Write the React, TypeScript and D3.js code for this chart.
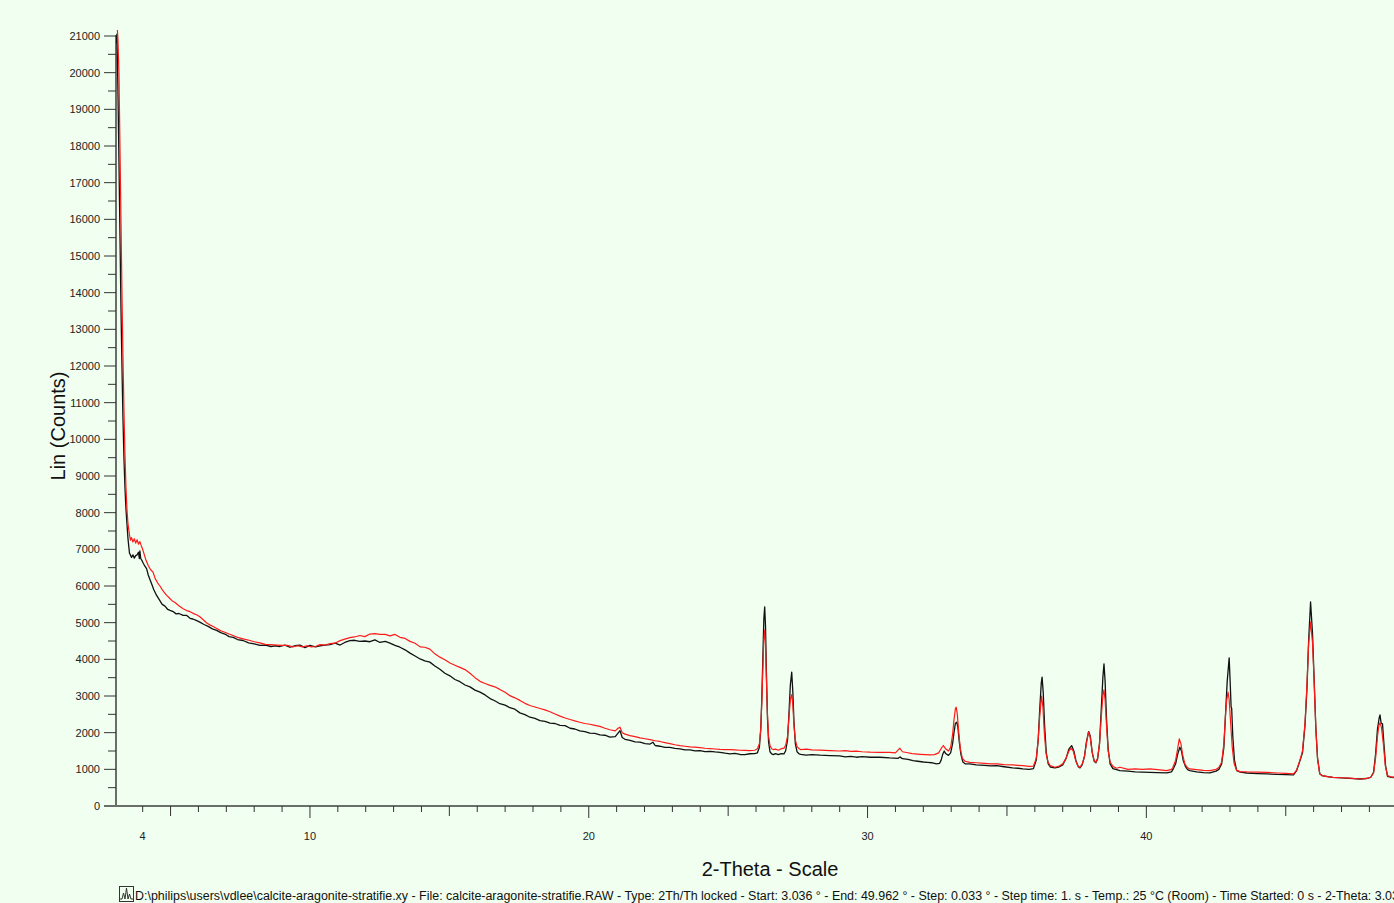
import React from "react";
import * as d3 from "d3";

// 2-Theta (deg) / counts, black scan
const blackScan: [number, number][] = [
  [3.036, 20800], [3.077, 21050], [3.113, 19500], [3.149, 17600], [3.185, 15600], [3.221, 13600],
  [3.257, 12000], [3.292, 10600], [3.328, 9500], [3.364, 8700], [3.4, 8100], [3.436, 7700],
  [3.472, 7300], [3.526, 6900], [3.6, 6780], [3.65, 6850], [3.7, 6760], [3.75, 6830], [3.8, 6850],
  [3.85, 6920], [3.88, 6750], [3.9, 6960], [3.93, 6750], [3.97, 6700], [4.02, 6620], [4.08, 6540],
  [4.14, 6472], [4.2, 6300], [4.26, 6180], [4.32, 6060], [4.4, 5900], [4.5, 5743], [4.6, 5620],
  [4.7, 5500], [4.8, 5450], [4.9, 5360], [4.98, 5333], [5.1, 5300], [5.2, 5240], [5.3, 5250],
  [5.45, 5200], [5.58, 5197], [5.7, 5120], [5.8, 5100], [5.92, 5060], [6.05, 5015], [6.2, 4950],
  [6.35, 4900], [6.5, 4830], [6.65, 4788], [6.8, 4730], [6.95, 4690], [7.1, 4620], [7.25, 4600],
  [7.4, 4540], [7.6, 4514], [7.8, 4450], [8.0, 4420], [8.21, 4378], [8.4, 4390], [8.6, 4350],
  [8.75, 4370], [8.92, 4350], [9.1, 4390], [9.28, 4330], [9.46, 4370], [9.64, 4390], [9.82, 4320],
  [10.0, 4380], [10.2, 4340], [10.36, 4370], [10.55, 4390], [10.72, 4400], [10.9, 4440], [11.08, 4390],
  [11.25, 4460], [11.43, 4510], [11.6, 4520], [11.79, 4490], [11.97, 4500], [12.15, 4480], [12.33, 4530],
  [12.51, 4460], [12.7, 4490], [12.87, 4440], [13.05, 4380], [13.23, 4330], [13.41, 4260], [13.59, 4170],
  [13.77, 4090], [13.95, 4010], [14.12, 3960], [14.3, 3924], [14.48, 3820], [14.66, 3730], [14.84, 3620],
  [15.02, 3550], [15.2, 3450], [15.38, 3390], [15.56, 3300], [15.74, 3250], [15.92, 3160], [16.1, 3105],
  [16.28, 3030], [16.46, 2930], [16.63, 2870], [16.81, 2790], [17.0, 2750], [17.17, 2680], [17.35, 2640],
  [17.53, 2540], [17.71, 2490], [17.89, 2421], [18.07, 2390], [18.25, 2330], [18.43, 2310], [18.61, 2260],
  [18.79, 2250], [18.97, 2200], [19.15, 2190], [19.33, 2120], [19.5, 2100], [19.68, 2050], [19.86, 2030],
  [20.04, 1990], [20.22, 1980], [20.4, 1940], [20.58, 1930], [20.76, 1880], [20.95, 1890], [21.05, 1990],
  [21.12, 2057], [21.2, 1870], [21.3, 1820], [21.48, 1790], [21.66, 1750], [21.84, 1740], [22.02, 1700],
  [22.2, 1690], [22.3, 1740], [22.38, 1650], [22.55, 1630], [22.73, 1600], [22.91, 1600], [23.09, 1570],
  [23.27, 1560], [23.45, 1530], [23.63, 1530], [23.81, 1505], [23.99, 1510], [24.17, 1485], [24.35, 1490],
  [24.53, 1475], [24.71, 1465], [24.89, 1440], [25.06, 1420], [25.24, 1435], [25.42, 1405], [25.6, 1400],
  [25.78, 1425], [25.95, 1430], [26.05, 1450], [26.12, 1600], [26.17, 2100], [26.21, 3000], [26.25, 4200],
  [26.28, 5100], [26.31, 5430], [26.34, 4900], [26.37, 3700], [26.41, 2400], [26.45, 1750], [26.5, 1480],
  [26.56, 1420], [26.62, 1400], [26.7, 1430], [26.8, 1400], [26.9, 1430], [27.0, 1420], [27.06, 1500],
  [27.13, 1800], [27.18, 2500], [27.23, 3300], [27.28, 3650], [27.32, 3100], [27.36, 2300], [27.41, 1700],
  [27.47, 1480], [27.55, 1420], [27.6, 1410], [27.8, 1390], [28.0, 1400], [28.3, 1385], [28.65, 1374],
  [29.0, 1365], [29.2, 1340], [29.4, 1355], [29.6, 1330], [29.8, 1345], [30.1, 1330], [30.44, 1329],
  [30.8, 1310], [31.1, 1300], [31.16, 1340], [31.25, 1290], [31.45, 1270], [31.63, 1238], [31.8, 1220],
  [32.0, 1200], [32.15, 1190], [32.3, 1180], [32.47, 1147], [32.58, 1160], [32.64, 1250], [32.7, 1420],
  [32.75, 1500], [32.8, 1430], [32.9, 1380], [32.98, 1450], [33.05, 1700], [33.1, 2000], [33.15, 2250],
  [33.2, 2285], [33.24, 2150], [33.29, 1750], [33.35, 1400], [33.42, 1200], [33.5, 1150], [33.67, 1147],
  [33.9, 1120], [34.2, 1110], [34.4, 1095], [34.63, 1101], [34.9, 1070], [35.2, 1040], [35.4, 1030],
  [35.57, 1010], [35.8, 1000], [35.95, 1020], [36.05, 1250], [36.12, 1800], [36.18, 2700], [36.23, 3350],
  [36.26, 3514], [36.3, 3100], [36.35, 2200], [36.41, 1450], [36.48, 1150], [36.56, 1060], [36.72, 1040],
  [36.85, 1060], [37.0, 1120], [37.12, 1300], [37.22, 1550], [37.32, 1647], [37.4, 1500], [37.48, 1220],
  [37.56, 1070], [37.62, 1040], [37.7, 1130], [37.78, 1350], [37.85, 1750], [37.93, 2030], [37.99, 1900],
  [38.06, 1450], [38.13, 1220], [38.19, 1180], [38.25, 1280], [38.32, 1700], [38.38, 2600], [38.44, 3500],
  [38.48, 3878], [38.52, 3400], [38.57, 2400], [38.63, 1550], [38.7, 1150], [38.8, 1020], [38.93, 990],
  [39.05, 964], [39.34, 950], [39.6, 930], [39.85, 925], [40.13, 919], [40.4, 910], [40.73, 901],
  [40.9, 930], [40.95, 990], [41.05, 1150], [41.12, 1400], [41.2, 1603], [41.26, 1500], [41.32, 1250],
  [41.4, 1080], [41.48, 990], [41.56, 964], [41.8, 930], [42.05, 910], [42.28, 901], [42.5, 950],
  [42.6, 1000], [42.7, 1150], [42.78, 1600], [42.84, 2500], [42.9, 3400], [42.97, 4042], [43.01, 3300],
  [43.04, 2700], [43.06, 2668], [43.1, 1900], [43.16, 1250], [43.24, 964], [43.37, 924], [43.6, 900],
  [44.0, 885], [44.32, 874], [44.7, 860], [45.0, 855], [45.28, 847], [45.39, 964], [45.51, 1238],
  [45.6, 1450], [45.69, 2200], [45.76, 3200], [45.82, 4500], [45.89, 5563], [45.96, 4700], [46.02, 3400],
  [46.08, 2100], [46.14, 1300], [46.22, 880], [46.3, 830], [46.5, 800], [46.69, 783], [47.0, 765],
  [47.3, 755], [47.66, 737], [47.9, 750], [48.05, 783], [48.15, 920], [48.22, 1400], [48.29, 2100],
  [48.35, 2400], [48.38, 2485], [48.42, 2260], [48.47, 2240], [48.52, 1700], [48.58, 1100], [48.65, 810],
  [48.8, 780], [49.2, 765], [49.6, 755], [49.962, 750],
];

// 2-Theta (deg) / counts, red scan
const redScan: [number, number][] = [
  [3.036, 21600], [3.077, 21400], [3.113, 20900], [3.149, 20000], [3.185, 18000], [3.221, 16000],
  [3.257, 14000], [3.292, 12300], [3.328, 10800], [3.364, 9600], [3.4, 8700], [3.436, 8100],
  [3.472, 7700], [3.526, 7400], [3.56, 7250], [3.6, 7320], [3.65, 7200], [3.7, 7290], [3.75, 7170],
  [3.8, 7260], [3.85, 7140], [3.9, 7210], [3.95, 7100], [4.0, 7000], [4.06, 6850], [4.12, 6700],
  [4.2, 6560], [4.28, 6450], [4.37, 6380], [4.45, 6200], [4.54, 6080], [4.62, 6000], [4.7, 5900],
  [4.78, 5820], [4.86, 5743], [4.95, 5680], [5.05, 5600], [5.16, 5550], [5.3, 5460], [5.45, 5380],
  [5.58, 5330], [5.7, 5300], [5.85, 5240], [5.95, 5210], [6.05, 5160], [6.2, 5060], [6.3, 4990],
  [6.41, 4940], [6.55, 4890], [6.68, 4830], [6.8, 4780], [6.95, 4740], [7.1, 4690], [7.24, 4651],
  [7.4, 4600], [7.6, 4560], [7.85, 4514], [8.0, 4480], [8.2, 4450], [8.4, 4410], [8.6, 4400],
  [8.8, 4390], [9.03, 4378], [9.2, 4380], [9.38, 4340], [9.55, 4370], [9.73, 4340], [9.9, 4370],
  [10.05, 4340], [10.2, 4350], [10.36, 4400], [10.55, 4390], [10.72, 4430], [10.9, 4440], [11.08, 4510],
  [11.25, 4550], [11.43, 4590], [11.6, 4610], [11.79, 4650], [11.97, 4620], [12.15, 4690], [12.33, 4700],
  [12.51, 4680], [12.7, 4680], [12.87, 4640], [13.05, 4680], [13.23, 4600], [13.41, 4570], [13.59, 4490],
  [13.77, 4440], [13.95, 4340], [14.12, 4330], [14.3, 4280], [14.48, 4150], [14.66, 4060], [14.84, 3990],
  [15.02, 3900], [15.2, 3840], [15.38, 3780], [15.56, 3720], [15.74, 3620], [15.92, 3500], [16.1, 3400],
  [16.28, 3340], [16.46, 3290], [16.63, 3250], [16.81, 3180], [17.0, 3100], [17.17, 3010], [17.35, 2950],
  [17.53, 2880], [17.71, 2800], [17.89, 2740], [18.07, 2700], [18.25, 2660], [18.43, 2620], [18.61, 2570],
  [18.79, 2510], [18.97, 2450], [19.15, 2400], [19.33, 2360], [19.5, 2320], [19.68, 2285], [19.86, 2250],
  [20.04, 2230], [20.22, 2200], [20.4, 2170], [20.58, 2120], [20.76, 2080], [20.95, 2050], [21.05, 2120],
  [21.12, 2150], [21.2, 2000], [21.3, 1960], [21.48, 1920], [21.66, 1890], [21.84, 1860], [22.02, 1835],
  [22.2, 1810], [22.38, 1780], [22.55, 1760], [22.73, 1730], [22.91, 1700], [23.09, 1670], [23.27, 1647],
  [23.45, 1630], [23.63, 1615], [23.81, 1605], [23.99, 1590], [24.17, 1575], [24.35, 1565], [24.53, 1555],
  [24.71, 1545], [24.89, 1540], [25.06, 1538], [25.24, 1530], [25.42, 1520], [25.6, 1515], [25.78, 1510],
  [25.95, 1520], [26.05, 1560], [26.12, 1700], [26.17, 2100], [26.21, 2900], [26.25, 3900], [26.28, 4550],
  [26.31, 4800], [26.34, 4400], [26.37, 3500], [26.41, 2500], [26.45, 1900], [26.5, 1650], [26.56, 1560],
  [26.62, 1540], [26.7, 1550], [26.8, 1520], [26.9, 1560], [27.0, 1580], [27.06, 1650], [27.13, 1900],
  [27.18, 2400], [27.23, 2900], [27.28, 3040], [27.32, 2750], [27.36, 2200], [27.41, 1800], [27.47, 1620],
  [27.55, 1560], [27.6, 1540], [27.8, 1550], [28.0, 1530], [28.3, 1525], [28.65, 1510], [29.0, 1500],
  [29.2, 1510], [29.4, 1490], [29.6, 1495], [29.8, 1480], [30.1, 1470], [30.44, 1465], [30.8, 1460],
  [31.0, 1450], [31.1, 1530], [31.16, 1575], [31.25, 1480], [31.4, 1460], [31.6, 1430], [31.9, 1410],
  [32.24, 1393], [32.4, 1400], [32.55, 1450], [32.65, 1580], [32.72, 1650], [32.8, 1560], [32.9, 1500],
  [32.98, 1600], [33.05, 1950], [33.1, 2350], [33.15, 2650], [33.18, 2695], [33.22, 2500], [33.27, 2000],
  [33.33, 1550], [33.4, 1300], [33.5, 1220], [33.67, 1192], [33.9, 1180], [34.2, 1160], [34.4, 1150],
  [34.63, 1147], [34.9, 1130], [35.2, 1120], [35.4, 1110], [35.57, 1101], [35.8, 1080], [35.95, 1090],
  [36.05, 1300], [36.12, 1800], [36.18, 2500], [36.24, 2995], [36.29, 2700], [36.34, 2000], [36.4, 1450],
  [36.47, 1200], [36.55, 1100], [36.72, 1056], [36.85, 1080], [37.0, 1150], [37.12, 1300], [37.22, 1500],
  [37.3, 1575], [37.38, 1500], [37.46, 1250], [37.55, 1080], [37.62, 1056], [37.7, 1150], [37.78, 1350],
  [37.85, 1700], [37.92, 2012], [37.98, 1900], [38.05, 1500], [38.12, 1250], [38.19, 1192], [38.25, 1300],
  [38.32, 1700], [38.38, 2400], [38.44, 3000], [38.48, 3168], [38.52, 2900], [38.57, 2200], [38.63, 1500],
  [38.7, 1200], [38.8, 1080], [38.93, 1030], [39.05, 1056], [39.34, 1000], [39.6, 1010], [39.85, 1000],
  [40.13, 1010], [40.4, 990], [40.73, 964], [40.9, 1000], [40.95, 1050], [41.05, 1250], [41.12, 1550],
  [41.18, 1830], [41.24, 1700], [41.3, 1400], [41.38, 1150], [41.47, 1050], [41.56, 1010], [41.8, 990],
  [42.05, 970], [42.28, 964], [42.5, 1000], [42.6, 1050], [42.7, 1192], [42.78, 1700], [42.84, 2500],
  [42.88, 2876], [42.93, 3105], [42.97, 2900], [43.02, 2300], [43.08, 1600], [43.15, 1150], [43.24, 970],
  [43.37, 937], [43.6, 930], [44.0, 925], [44.32, 919], [44.7, 900], [45.0, 890], [45.28, 874],
  [45.39, 980], [45.51, 1250], [45.6, 1500], [45.69, 2250], [45.76, 3300], [45.82, 4424], [45.89, 5017],
  [45.96, 4450], [46.02, 3350], [46.08, 2100], [46.14, 1300], [46.22, 870], [46.3, 830], [46.5, 800],
  [46.69, 783], [47.0, 770], [47.3, 760], [47.66, 737], [47.9, 755], [48.05, 783], [48.15, 900],
  [48.22, 1300], [48.29, 1900], [48.34, 2200], [48.38, 2267], [48.43, 2150], [48.5, 1700], [48.57, 1100],
  [48.65, 830], [48.8, 790], [49.2, 770], [49.6, 760], [49.962, 750],
];

const xDomain: [number, number] = [3.036, 49.962];
const yDomain: [number, number] = [0, 21000];
const xTickLabels = [4, 10, 20, 30, 40];
const yTickValues = d3.range(0, 21001, 1000);
const yMinorValues = d3.range(500, 21000, 1000);
const xMinorValues = d3.range(4, 50, 1);

const footerText =
  "D:\\philips\\users\\vdlee\\calcite-aragonite-stratifie.xy - File: calcite-aragonite-stratifie.RAW - Type: 2Th/Th locked - Start: 3.036 ° - End: 49.962 ° - Step: 0.033 ° - Step time: 1. s - Temp.: 25 °C (Room) - Time Started: 0 s - 2-Theta: 3.036 °";

export default function App() {
  const W = 1394;
  const H = 903;
  const x = d3.scaleLinear().domain(xDomain).range([115.8, 1424.1]);
  const y = d3.scaleLinear().domain(yDomain).range([806, 36]);
  const line = d3
    .line<[number, number]>()
    .x((d) => x(d[0]))
    .y((d) => y(d[1]));
  const font = "'Liberation Sans', Arial, sans-serif";
  const axisColor = "#6a6e6a";

  return (
    <svg
      width={W}
      height={H}
      style={{ position: "absolute", left: 0, top: 0, background: "#f0fff0", overflow: "hidden" }}
      fontFamily={font}
    >
      <rect x={0} y={0} width={W} height={H} fill="#f0fff0" />
      <defs>
        <clipPath id="plotClip">
          <rect x={116} y={30} width={W - 116} height={777} />
        </clipPath>
      </defs>

      {/* y axis */}
      <line x1={116} y1={35} x2={116} y2={807} stroke={axisColor} strokeWidth={2} />
      {yTickValues.map((v) => (
        <g key={"yt" + v}>
          <line x1={104} x2={116} y1={y(v)} y2={y(v)} stroke="#333" strokeWidth={1} />
          <text x={100} y={y(v) + 4} fontSize={11} textAnchor="end" fill="#222">
            {v}
          </text>
        </g>
      ))}
      {yMinorValues.map((v) => (
        <line key={"ym" + v} x1={108} x2={116} y1={y(v)} y2={y(v)} stroke="#333" strokeWidth={1} />
      ))}

      {/* x axis */}
      <line x1={104} y1={806} x2={W} y2={806} stroke={axisColor} strokeWidth={2} />
      {xMinorValues.map((v) => {
        const len = v % 10 === 0 ? 12 : v % 5 === 0 ? 10 : 6;
        return (
          <line key={"xm" + v} x1={x(v)} x2={x(v)} y1={806} y2={806 + len} stroke="#333" strokeWidth={1} />
        );
      })}
      {xTickLabels.map((v) => (
        <text key={"xl" + v} x={x(v)} y={840} fontSize={11} textAnchor="middle" fill="#222">
          {v}
        </text>
      ))}

      {/* axis titles */}
      <text transform="translate(65,426) rotate(-90)" textAnchor="middle" fontSize={20} fill="#111">
        Lin (Counts)
      </text>
      <text x={770} y={876} textAnchor="middle" fontSize={20} fill="#111">
        2-Theta - Scale
      </text>

      {/* scans */}
      <g clipPath="url(#plotClip)">
        <path d={line(blackScan) || ""} fill="none" stroke="#111" strokeWidth={1.3} strokeLinejoin="round" />
        <path d={line(redScan) || ""} fill="none" stroke="#ff1a1a" strokeWidth={1.2} strokeLinejoin="round" />
      </g>

      {/* footer */}
      <rect x={119.5} y={886.5} width={14} height={15} fill="none" stroke="#333" strokeWidth={1} />
      <polyline
        points="120,899 122,899 123.5,893 125,899 126.5,888 128,899 129.5,894 131,899 133,899"
        fill="none"
        stroke="#333"
        strokeWidth={1}
      />
      <text x={135} y={900} fontSize={12.45} fill="#111">
        {footerText}
      </text>
    </svg>
  );
}
